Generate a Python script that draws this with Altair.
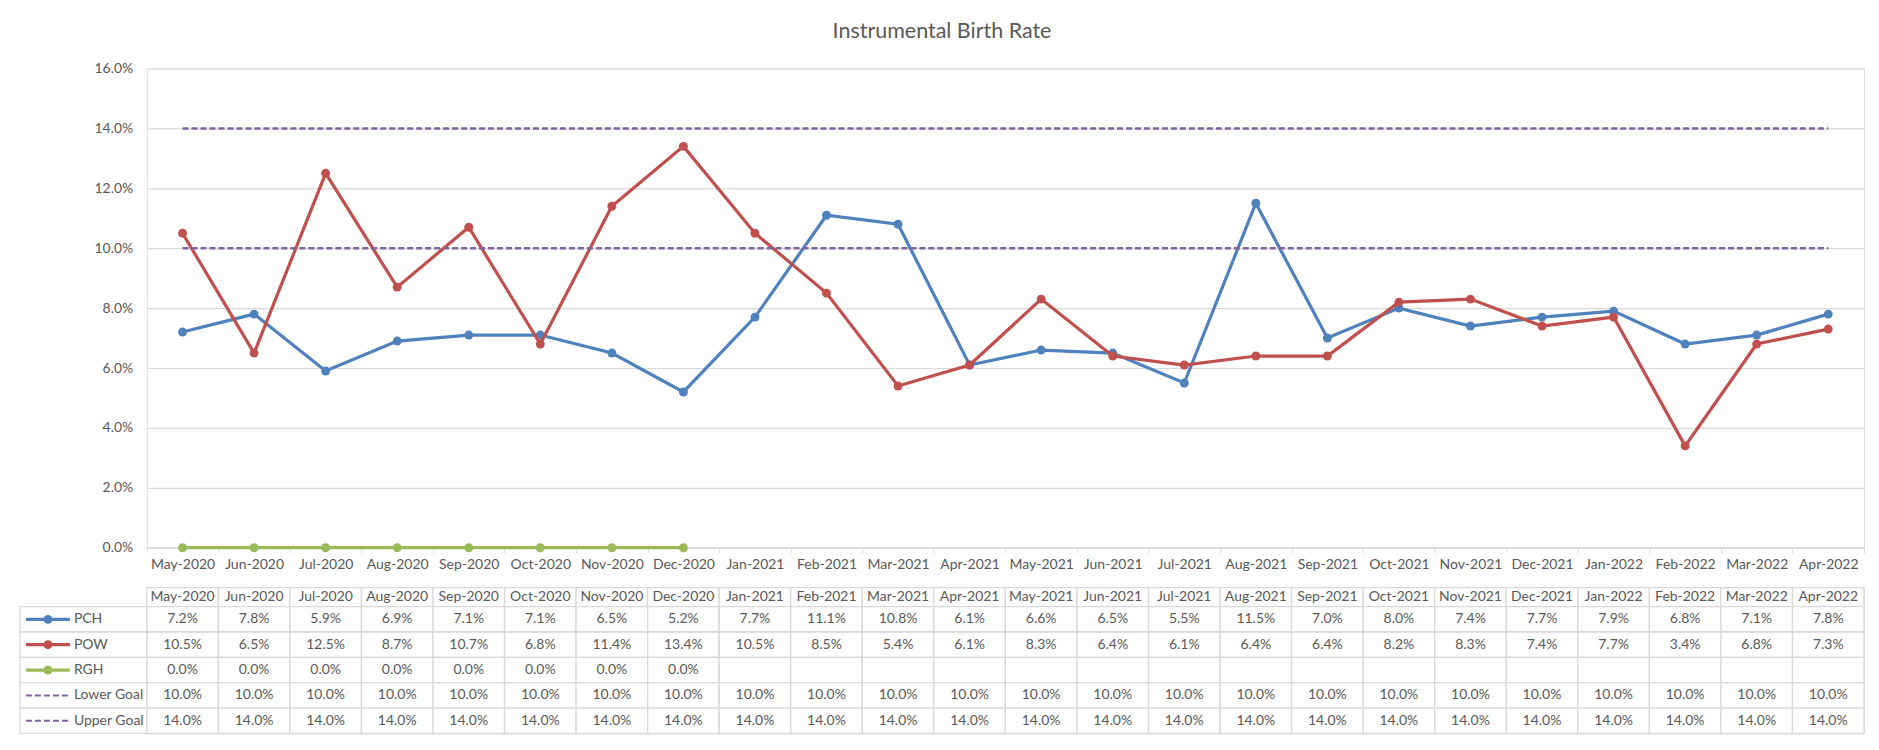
import altair as alt
import pandas as pd

months = ["May-2020", "Jun-2020", "Jul-2020", "Aug-2020", "Sep-2020", "Oct-2020",
          "Nov-2020", "Dec-2020", "Jan-2021", "Feb-2021", "Mar-2021", "Apr-2021",
          "May-2021", "Jun-2021", "Jul-2021", "Aug-2021", "Sep-2021", "Oct-2021",
          "Nov-2021", "Dec-2021", "Jan-2022", "Feb-2022", "Mar-2022", "Apr-2022"]
pch = [7.2, 7.8, 5.9, 6.9, 7.1, 7.1, 6.5, 5.2, 7.7, 11.1, 10.8, 6.1,
       6.6, 6.5, 5.5, 11.5, 7.0, 8.0, 7.4, 7.7, 7.9, 6.8, 7.1, 7.8]
pow_ = [10.5, 6.5, 12.5, 8.7, 10.7, 6.8, 11.4, 13.4, 10.5, 8.5, 5.4, 6.1,
        8.3, 6.4, 6.1, 6.4, 6.4, 8.2, 8.3, 7.4, 7.7, 3.4, 6.8, 7.3]
rgh = [0.0, 0.0, 0.0, 0.0, 0.0, 0.0, 0.0, 0.0, None, None, None, None,
       None, None, None, None, None, None, None, None, None, None, None, None]
lower_goal = [10.0, 10.0, 10.0, 10.0, 10.0, 10.0, 10.0, 10.0, 10.0, 10.0, 10.0, 10.0,
              10.0, 10.0, 10.0, 10.0, 10.0, 10.0, 10.0, 10.0, 10.0, 10.0, 10.0, 10.0]
upper_goal = [14.0, 14.0, 14.0, 14.0, 14.0, 14.0, 14.0, 14.0, 14.0, 14.0, 14.0, 14.0,
              14.0, 14.0, 14.0, 14.0, 14.0, 14.0, 14.0, 14.0, 14.0, 14.0, 14.0, 14.0]

series_names = ["PCH", "POW", "RGH", "Lower Goal", "Upper Goal"]
series_values = [pch, pow_, rgh, lower_goal, upper_goal]
series_colors = ["#4f81bd", "#c0504d", "#9bbb59", "#8064a2", "#8064a2"]
series_dashed = [False, False, False, True, True]
y_ticks = [0.0, 0.02, 0.04, 0.06, 0.08, 0.10, 0.12, 0.14, 0.16]

FONT = "Lato"
TXT = "#595959"
GRID = "#d9d9d9"
FS = 14

# ---------- plot ----------
xscale = alt.Scale(type="band", domain=months, paddingInner=0, paddingOuter=0)
x_enc = alt.X("month:N", sort=months, scale=xscale, bandPosition=0.5,
              axis=alt.Axis(title=None, labelAngle=0, tickBand="extent",
                            domainColor=GRID, tickColor=GRID, tickSize=5,
                            labelPadding=5, labelColor=TXT, labelFont=FONT,
                            labelFontSize=FS, grid=False))
y_enc = alt.Y("value:Q", scale=alt.Scale(domain=[0, 0.16]),
              axis=alt.Axis(title=None, format=".1%", values=y_ticks, grid=True,
                            gridColor=GRID, gridWidth=1.2, domain=False, ticks=False,
                            labelPadding=14, labelColor=TXT, labelFont=FONT,
                            labelFontSize=FS))

layers = []
for name, vals, col, dashed in zip(series_names, series_values, series_colors, series_dashed):
    df = pd.DataFrame({"month": months, "value": [None if v is None else v / 100 for v in vals]})
    df = df.dropna()
    if dashed:
        mk = alt.Chart(df).mark_line(color=col, strokeWidth=2.5, strokeDash=[6, 3])
    else:
        mk = alt.Chart(df).mark_line(color=col, strokeWidth=3.2,
                                     point=alt.OverlayMarkDef(filled=True, size=80, color=col, opacity=1))
    layers.append(mk.encode(x=x_enc, y=y_enc))

plot = alt.layer(*layers).properties(width=1720, height=480)

# ---------- data table ----------
HEAD_H = 0.75
cells = []
for m_i, m in enumerate(months):
    cells.append({"month": m, "top": 0.0, "bottom": HEAD_H, "label": m})
    for s_i, (name, vals) in enumerate(zip(series_names, series_values)):
        v = vals[m_i]
        cells.append({"month": m, "top": HEAD_H + s_i, "bottom": HEAD_H + s_i + 1,
                      "label": "" if v is None else f"{v:.1f}%"})
cells_df = pd.DataFrame(cells)
cells_df["mid"] = (cells_df["top"] + cells_df["bottom"]) / 2

tx = alt.X("month:N", sort=months, scale=xscale, axis=None)
ty_scale = alt.Scale(domain=[0, HEAD_H + len(series_names)], reverse=True, nice=False, zero=False)

cell_rect = alt.Chart(cells_df).mark_rect(fill="white", stroke=GRID, strokeWidth=1.3).encode(
    x=tx, y=alt.Y("top:Q", scale=ty_scale, axis=None), y2="bottom:Q")
cell_text = alt.Chart(cells_df).mark_text(font=FONT, fontSize=FS, color=TXT).encode(
    x=alt.X("month:N", sort=months, scale=xscale, axis=None, bandPosition=0.5),
    y=alt.Y("mid:Q", scale=ty_scale, axis=None), text="label:N")

leg_df = pd.DataFrame({
    "series": series_names,
    "top": [HEAD_H + i for i in range(len(series_names))],
    "bottom": [HEAD_H + i + 1 for i in range(len(series_names))],
})
leg_df["mid"] = (leg_df["top"] + leg_df["bottom"]) / 2

leg_layers = [
    alt.Chart(leg_df).mark_rect(fill="white", stroke=GRID, strokeWidth=1.3).encode(
        x=alt.value(-127), x2=alt.value(0),
        y=alt.Y("top:Q", scale=ty_scale, axis=None), y2="bottom:Q"),
    alt.Chart(leg_df).mark_text(font=FONT, fontSize=FS, color=TXT, align="left").encode(
        x=alt.value(-73), y=alt.Y("mid:Q", scale=ty_scale, axis=None), text="series:N"),
]
for name, col, dashed in zip(series_names, series_colors, series_dashed):
    sdf = leg_df[leg_df["series"] == name]
    if dashed:
        leg_layers.append(alt.Chart(sdf).mark_rule(color=col, strokeWidth=2, strokeDash=[6, 3]).encode(
            x=alt.value(-121), x2=alt.value(-76), y=alt.Y("mid:Q", scale=ty_scale, axis=None)))
    else:
        leg_layers.append(alt.Chart(sdf).mark_rule(color=col, strokeWidth=3.2).encode(
            x=alt.value(-121), x2=alt.value(-77), y=alt.Y("mid:Q", scale=ty_scale, axis=None)))
        leg_layers.append(alt.Chart(sdf).mark_point(color=col, filled=True, size=80, opacity=1).encode(
            x=alt.value(-99), y=alt.Y("mid:Q", scale=ty_scale, axis=None)))

table = alt.layer(cell_rect, cell_text, *leg_layers).properties(width=1720, height=146)

chart = alt.vconcat(plot, table, spacing=13).properties(
    title=alt.TitleParams("Instrumental Birth Rate", font=FONT, fontSize=21.5, fontWeight="normal",
                          color=TXT, anchor="middle", offset=19),
    padding={"left": 10, "top": 12, "right": 5, "bottom": 5},
).configure_view(stroke=None).configure(background="white")

chart.save("out.html", embed_options={"renderer": "svg", "actions": False})
